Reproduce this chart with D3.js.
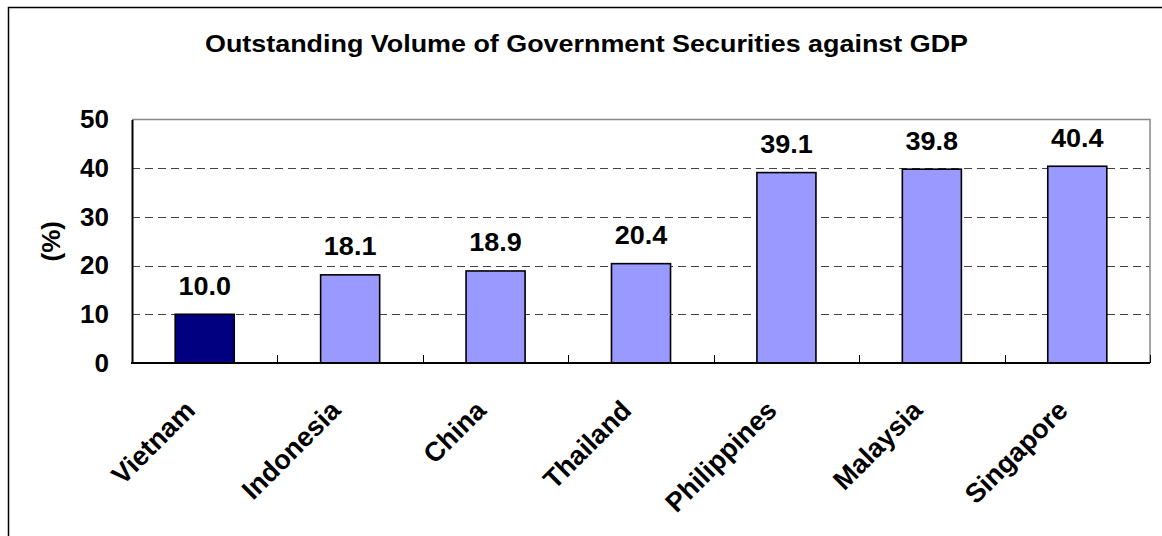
<!DOCTYPE html>
<html>
<head>
<meta charset="utf-8">
<script src="https://cdn.jsdelivr.net/npm/d3@7"></script>
<style>
  html, body { margin: 0; padding: 0; background: #fff; }
  svg { display: block; }
  text { font-family: "Liberation Sans", Arial, sans-serif; font-weight: bold; fill: #000; }
</style>
</head>
<body>
<svg id="chart" width="1162" height="536"></svg>
<script>
// Outstanding government securities as a share of GDP (%)
const countries = ["Vietnam", "Indonesia", "China", "Thailand", "Philippines", "Malaysia", "Singapore"];
const values = [10.0, 18.1, 18.9, 20.4, 39.1, 39.8, 40.4];
const yTicks = [0, 10, 20, 30, 40, 50];
const highlight = "Vietnam";
const titleText = "Outstanding Volume of Government Securities against GDP";
const yLabel = "(%)";

const svg = d3.select("#chart");
const W = 1162, H = 536;
const plot = { left: 132, right: 1150, top: 119.5, bottom: 363 };

// outer frame (left and top edges visible)
svg.append("path")
  .attr("d", `M8.5,${H + 2} V7.5 H${W + 2}`)
  .attr("fill", "none").attr("stroke", "#000").attr("stroke-width", 1.5);

const x = d3.scaleBand()
  .domain(countries)
  .range([plot.left, plot.right])
  .paddingInner(0.594)
  .paddingOuter(0.297);

const y = d3.scaleLinear()
  .domain([0, 50])
  .range([plot.bottom, plot.top]);

// horizontal gridlines
svg.append("g").selectAll("line")
  .data(yTicks.filter(t => t > 0 && t < 50))
  .join("line")
  .attr("x1", plot.left).attr("x2", plot.right)
  .attr("y1", d => Math.round(y(d)) + 0.5).attr("y2", d => Math.round(y(d)) + 0.5)
  .attr("stroke", "#444").attr("stroke-width", 1)
  .attr("stroke-dasharray", "8,5");

// top and right border of plot area
svg.append("path")
  .attr("d", `M${plot.left},${y(50)} H${plot.right} V${plot.bottom}`)
  .attr("fill", "none").attr("stroke", "#888").attr("stroke-width", 1.5);

// bars
svg.append("g").selectAll("rect")
  .data(countries)
  .join("rect")
  .attr("x", d => x(d))
  .attr("width", x.bandwidth())
  .attr("y", (d, i) => y(values[i]))
  .attr("height", (d, i) => y(0) - y(values[i]))
  .attr("fill", d => d === highlight ? "#000080" : "#9999ff")
  .attr("stroke", "#000").attr("stroke-width", 1.6);

// value labels
svg.append("g").selectAll("text")
  .data(countries)
  .join("text")
  .attr("transform", (d, i) => `translate(${x(d) + x.bandwidth() / 2},${y(values[i]) - 19.5}) scale(1.06,1)`)
  .attr("text-anchor", "middle")
  .style("font-size", "25.5px")
  .text((d, i) => values[i].toFixed(1));

// y axis
const yAxis = d3.axisLeft(y).tickValues(yTicks).tickSize(0).tickPadding(23);
const gy = svg.append("g").attr("transform", `translate(${plot.left},0)`).call(yAxis);
gy.select(".domain").attr("stroke", "#000").attr("stroke-width", 2);
gy.selectAll("text")
  .style("font-size", "26px")
  .style("font-family", "'Liberation Sans', Arial, sans-serif")
  .style("font-weight", "bold")
  .attr("fill", "#000");

// x axis with inner ticks at category boundaries
const gx = svg.append("g").attr("transform", `translate(0,${plot.bottom})`);
gx.append("line")
  .attr("x1", plot.left - 1).attr("x2", plot.right)
  .attr("stroke", "#000").attr("stroke-width", 2);
const step = x.step();
gx.selectAll("line.tick")
  .data(countries.slice(1).concat(["end"]))
  .join("line")
  .attr("class", "tick")
  .attr("x1", (d, i) => Math.round(plot.left + (i + 1) * step) + 0.5)
  .attr("x2", (d, i) => Math.round(plot.left + (i + 1) * step) + 0.5)
  .attr("y1", 0).attr("y2", -8)
  .attr("stroke", "#000").attr("stroke-width", 1);

// rotated category labels
gx.selectAll("text")
  .data(countries)
  .join("text")
  .attr("transform", d => `translate(${x(d) + x.bandwidth() / 2 - 8},49) rotate(-45)`)
  .attr("text-anchor", "end")
  .style("font-size", "27px")
  .text(d => d);

// y axis title
svg.append("text")
  .attr("transform", `translate(60,${(plot.top + plot.bottom) / 2}) rotate(-90)`)
  .attr("text-anchor", "middle")
  .style("font-size", "26px")
  .text(yLabel);

// chart title
svg.append("text")
  .attr("x", 205).attr("y", 52)
  .attr("textLength", 763)
  .attr("lengthAdjust", "spacingAndGlyphs")
  .style("font-size", "24px")
  .text(titleText);
</script>
</body>
</html>
